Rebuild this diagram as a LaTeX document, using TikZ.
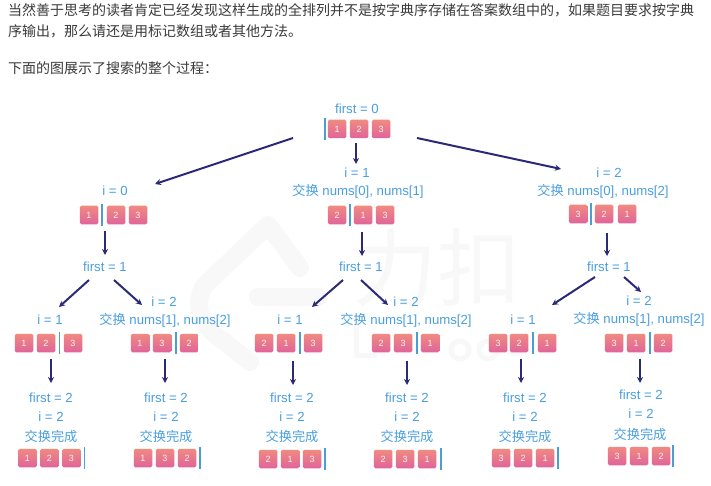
\documentclass[tikz,border=0pt]{standalone}
\usepackage{fontspec}
\setmainfont{Liberation Sans}
\newfontfamily\cjk{Noto Sans CJK SC}
\usetikzlibrary{arrows.meta}
\definecolor{lbl}{HTML}{4A9FE0}
\definecolor{barc}{HTML}{4A9FD0}
\definecolor{arrc}{HTML}{2A2A78}
\definecolor{cellt}{HTML}{F08A80}
\definecolor{cellb}{HTML}{E0649A}
\definecolor{body}{HTML}{3A3A3A}
\definecolor{wm}{HTML}{F8F8F8}
\tikzset{
  x=1pt,y=-1pt,
  lab/.style={text=lbl,font=\fontsize{13.2}{13.2}\selectfont,inner sep=0pt,anchor=center},
  done/.style={text=lbl,font=\cjk\fontsize{13.2}{13.2}\selectfont,inner sep=0pt,anchor=center},
  para/.style={text=body,font=\cjk\fontsize{14}{14}\selectfont,inner sep=0pt,anchor=west},
  cellbox/.style={minimum size=18.5pt,inner sep=0pt,rounded corners=1.5pt,top color=cellt,bottom color=cellb,
     text=white!90!cellt,font=\fontsize{9}{9}\selectfont},
  barline/.style={draw=barc,line width=1.8pt},
  arr/.style={draw=arrc,line width=2pt,-{Stealth[length=6pt,width=6pt]}},
  wmark/.style={draw=wm,line width=18pt,line cap=round,line join=round},
  wmthin/.style={draw=wm,line width=5pt,line cap=round,line join=round}
}
% \arrcells{prefix}{y}{x1}{t1}{x2}{t2}{x3}{t3}{barx}
\newcommand{\arrcells}[9]{%
  \node[cellbox] (#1a) at (#3,#2) {#4};
  \node[cellbox] (#1b) at (#5,#2) {#6};
  \node[cellbox] (#1c) at (#7,#2) {#8};
  \coordinate (#1t) at (#9,#2-11);
  \coordinate (#1u) at (#9,#2+11);
  \draw[barline] (#1t) -- (#1u);
}
\begin{document}
\begin{tikzpicture}
\useasboundingbox (0,0) rectangle (711,486);
\fill[white] (0,0) rectangle (711,486);
% watermark
\draw[wmark] (300,268) -- (268,225) -- (205,285) .. controls (195,300) and (198,318) .. (212,332) -- (250,362);
\draw[wmark] (258,297) -- (318,297);
\node[text=wm,font=\cjk\fontsize{84}{84}\selectfont,inner sep=0pt] (wmtext) at (437,268) {力扣};
\draw[wmthin] (356,325) -- (356,355) -- (375,355);
\draw[wmthin] (460,350) circle (9);
\draw[wmthin] (488,350) circle (9);
\draw[wmthin] (516,345) circle (9);
% paragraph
\node[para] (p1) at (8,10) {当然善于思考的读者肯定已经发现这样生成的全排列并不是按字典序存储在答案数组中的，如果题目要求按字典};
\node[para] (p2) at (8,31) {序输出，那么请还是用标记数组或者其他方法。};
\node[para] (p3) at (8,68) {下面的图展示了搜索的整个过程：};
% root
\node[lab] (root) at (357,109) {first = 0};
\arrcells{r}{129}{337}{1}{359}{2}{381}{3}{325}
% level 1
\node[lab] (Li) at (115,191) {i = 0};
\arrcells{L}{215}{89}{1}{116}{2}{138}{3}{102}
\node[lab] (Mi) at (357,173) {i = 1};
\node[lab] (Ms) at (358,191) {{\cjk 交换} nums[0], nums[1]};
\arrcells{M}{215}{337}{2}{363}{1}{385}{3}{350}
\node[lab] (Ri) at (609,173) {i = 2};
\node[lab] (Rs) at (603,191) {{\cjk 交换} nums[0], nums[2]};
\arrcells{R}{214}{578}{3}{604}{2}{627}{1}{591}
% first = 1
\node[lab] (Lf) at (105,267) {first = 1};
\node[lab] (Mf) at (361,267) {first = 1};
\node[lab] (Rf) at (609,267) {first = 1};
% level 3 labels
\node[lab] (LLi) at (50,320) {i = 1};
\node[lab] (LRi) at (164,302) {i = 2};
\node[lab] (LRs) at (165,320) {{\cjk 交换} nums[1], nums[2]};
\node[lab] (MLi) at (290,320) {i = 1};
\node[lab] (MRi) at (406,302) {i = 2};
\node[lab] (MRs) at (406,320) {{\cjk 交换} nums[1], nums[2]};
\node[lab] (RLi) at (523,320) {i = 1};
\node[lab] (RRi) at (639,301) {i = 2};
\node[lab] (RRs) at (639,319) {{\cjk 交换} nums[1], nums[2]};
\arrcells{A}{343}{24}{1}{46}{2}{73}{3}{59.5}
\arrcells{B}{343}{140}{1}{162}{3}{189}{2}{176}
\arrcells{C}{343}{264}{2}{286}{1}{313}{3}{300}
\arrcells{D}{343}{381}{2}{403}{3}{430}{1}{417}
\arrcells{E}{343}{498}{3}{519}{2}{547}{1}{533}
\arrcells{F}{343}{614}{3}{636}{1}{663}{2}{650}
% leaves
\node[lab] (Af) at (51,398) {first = 2};
\node[lab] (Ai) at (51,417) {i = 2};
\node[done] (Ad) at (51,436) {交换完成};
\arrcells{a}{458}{27.5}{1}{49.5}{2}{71.5}{3}{84.5}
\node[lab] (Bf) at (166,398) {first = 2};
\node[lab] (Bi) at (166,417) {i = 2};
\node[done] (Bd) at (166,436) {交换完成};
\arrcells{b}{458}{143}{1}{165}{3}{187}{2}{200}
\node[lab] (Cf) at (292,398) {first = 2};
\node[lab] (Ci) at (292,417) {i = 2};
\node[done] (Cd) at (292,436) {交换完成};
\arrcells{c}{459}{268}{2}{290}{1}{312}{3}{325}
\node[lab] (Df) at (407,398) {first = 2};
\node[lab] (Di) at (407,417) {i = 2};
\node[done] (Dd) at (407,436) {交换完成};
\arrcells{d}{459}{383}{2}{405}{3}{427}{1}{441}
\node[lab] (Ef) at (525,398) {first = 2};
\node[lab] (Ei) at (525,417) {i = 2};
\node[done] (Ed) at (525,436) {交换完成};
\arrcells{e}{458}{501}{3}{523}{2}{545}{1}{558}
\node[lab] (Ff) at (641,395) {first = 2};
\node[lab] (Fi) at (641,414) {i = 2};
\node[done] (Fd) at (640,434) {交换完成};
\arrcells{f}{456}{617}{3}{639}{1}{661}{2}{673}
% arrows
\coordinate (r1s) at (293,138); \coordinate (r1e) at (155,184);
\draw[arr] (r1s) -- (r1e);
\coordinate (r2s) at (356,143); \coordinate (r2e) at (356,164);
\draw[arr] (r2s) -- (r2e);
\coordinate (r3s) at (417,138); \coordinate (r3e) at (561,169);
\draw[arr] (r3s) -- (r3e);
\coordinate (l1s) at (105,231); \coordinate (l1e) at (105,255);
\draw[arr] (l1s) -- (l1e);
\coordinate (l2s) at (362,232); \coordinate (l2e) at (362,256);
\draw[arr] (l2s) -- (l2e);
\coordinate (l3s) at (607,233); \coordinate (l3e) at (607,256);
\draw[arr] (l3s) -- (l3e);
\coordinate (a1s) at (89,280); \coordinate (a1e) at (59,307);
\draw[arr] (a1s) -- (a1e);
\coordinate (a2s) at (114,280); \coordinate (a2e) at (142,305);
\draw[arr] (a2s) -- (a2e);
\coordinate (a3s) at (343,280); \coordinate (a3e) at (312,307);
\draw[arr] (a3s) -- (a3e);
\coordinate (a4s) at (361,280); \coordinate (a4e) at (388,305);
\draw[arr] (a4s) -- (a4e);
\coordinate (a5s) at (595,277); \coordinate (a5e) at (552,305);
\draw[arr] (a5s) -- (a5e);
\coordinate (a6s) at (624,277); \coordinate (a6e) at (641,292);
\draw[arr] (a6s) -- (a6e);
\coordinate (b1s) at (51,359); \coordinate (b1e) at (51,383);
\draw[arr] (b1s) -- (b1e);
\coordinate (b2s) at (165,359); \coordinate (b2e) at (165,383);
\draw[arr] (b2s) -- (b2e);
\coordinate (b3s) at (293,361); \coordinate (b3e) at (293,385);
\draw[arr] (b3s) -- (b3e);
\coordinate (b4s) at (407,361); \coordinate (b4e) at (407,385);
\draw[arr] (b4s) -- (b4e);
\coordinate (b5s) at (521,359); \coordinate (b5e) at (521,383);
\draw[arr] (b5s) -- (b5e);
\coordinate (b6s) at (640,359); \coordinate (b6e) at (640,383);
\draw[arr] (b6s) -- (b6e);
\end{tikzpicture}
\end{document}
